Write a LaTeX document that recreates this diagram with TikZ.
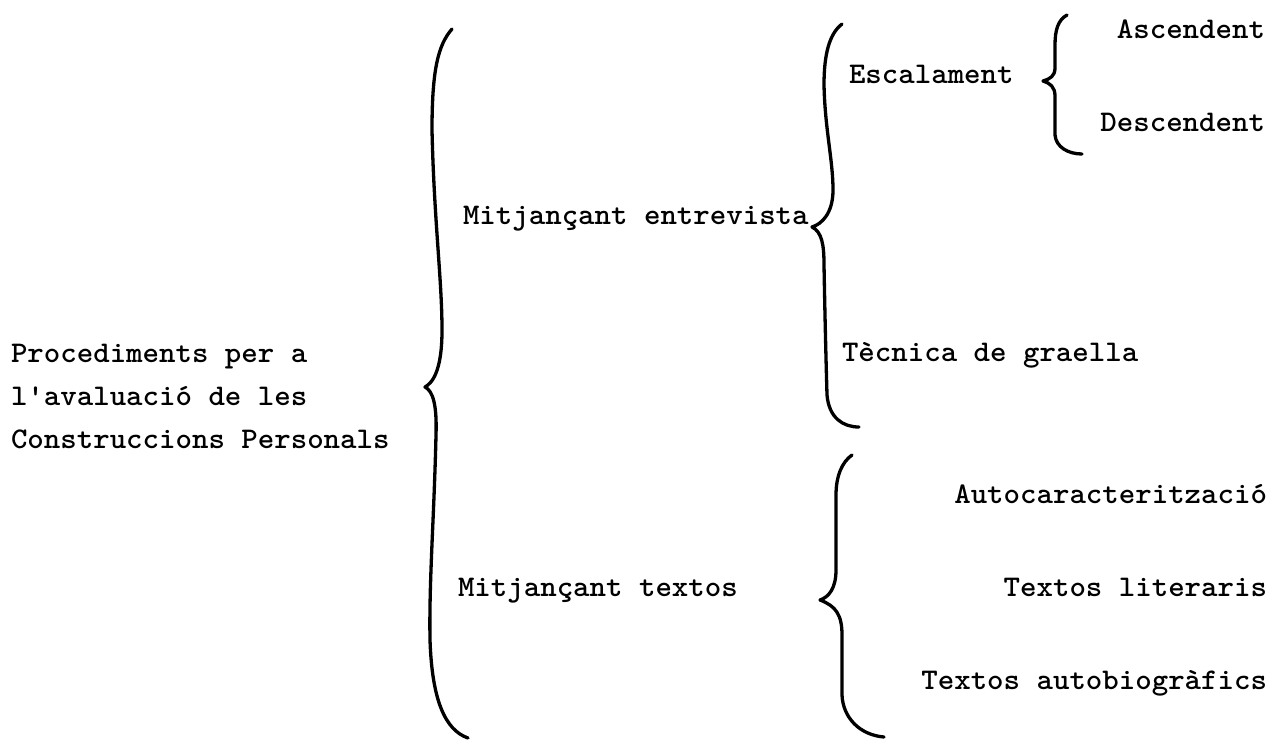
\documentclass[tikz,border=0pt]{standalone}
\newcommand{\stretchtxt}[1]{\scalebox{1.045}[1]{#1}}
\tikzset{
  lbl/.style={inner sep=0pt, outer sep=0pt, font=\fontsize{30}{36}\selectfont\ttfamily\bfseries},
  bracepath/.style={line width=3.3pt, line cap=round, line join=round}
}
\begin{document}
\begin{tikzpicture}[x=1pt,y=-1pt]
\useasboundingbox (0,0) rectangle (1273,740);
% left column
\node[lbl, anchor=base west] (p1) at (11,362) {\stretchtxt{Procediments per a}};
\node[lbl, anchor=base west] (p2) at (11,405) {\stretchtxt{l'avaluació de les}};
\node[lbl, anchor=base west] (p3) at (11,448) {\stretchtxt{Construccions Personals}};
% middle column
\node[lbl, anchor=base west] (entr) at (463,224) {\stretchtxt{Mitjançant entrevista}};
\node[lbl, anchor=base west] (text) at (458,596) {\stretchtxt{Mitjançant textos}};
% right column
\node[lbl, anchor=base west] (esc) at (849,83) {\stretchtxt{Escalament}};
\node[lbl, anchor=base west] (tec) at (842,361) {\stretchtxt{Tècnica de graella}};
\node[lbl, anchor=base east] (asc) at (1265,38) {\stretchtxt{Ascendent}};
\node[lbl, anchor=base east] (desc) at (1265,131) {\stretchtxt{Descendent}};
\node[lbl, anchor=base east] (auto) at (1267,503) {\stretchtxt{Autocaracterització}};
\node[lbl, anchor=base east] (lit) at (1267,596) {\stretchtxt{Textos literaris}};
\node[lbl, anchor=base east] (autob) at (1267,689) {\stretchtxt{Textos autobiogràfics}};
% big brace
\draw[bracepath] (452,29) .. controls (438,45) and (432,70) .. (432,130)
  .. controls (434,220) and (442,280) .. (442,330)
  .. controls (442,372) and (432,383) .. (425,387)
  .. controls (433,391) and (437,405) .. (436,435)
  .. controls (434,520) and (429,580) .. (430,640)
  .. controls (432,700) and (445,730) .. (468,738);
% entrevista brace
\draw[bracepath] (842,24) .. controls (829,34) and (824,55) .. (824,85)
  .. controls (825,130) and (833,160) .. (833,190)
  .. controls (833,213) and (822,224) .. (812,227)
  .. controls (822,232) and (824,245) .. (824,265)
  .. controls (825,320) and (826,360) .. (827,395)
  .. controls (829,418) and (843,427) .. (859,427);
% small brace
\draw[bracepath] (1067,15) .. controls (1058,20) and (1055,30) .. (1055,45)
  -- (1055,68)
  .. controls (1055,76) and (1050,79) .. (1043,81)
  .. controls (1050,83) and (1055,87) .. (1055,96)
  -- (1055,135)
  .. controls (1056,147) and (1068,154) .. (1082,154);
% textos brace
\draw[bracepath] (852,455) .. controls (842,462) and (836,476) .. (836,495)
  -- (836,570)
  .. controls (836,588) and (829,597) .. (820,600)
  .. controls (836,606) and (842,615) .. (842,635)
  -- (842,695)
  .. controls (843,718) and (860,735) .. (884,737);
\end{tikzpicture}
\end{document}
